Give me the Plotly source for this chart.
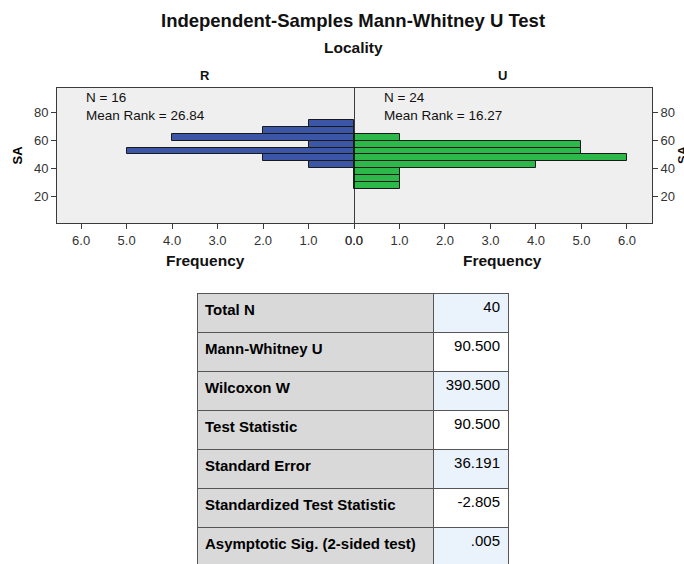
import plotly.graph_objects as go

# ---- data ----
bin_centers = [27.5, 32.5, 37.5, 42.5, 47.5, 52.5, 57.5, 62.5, 67.5, 72.5]
freq_R = [0, 0, 0, 1, 2, 5, 1, 4, 2, 1]
freq_U = [1, 1, 1, 4, 6, 5, 5, 1, 0, 0]
bin_width = 5
groups = ["R", "U"]
n_labels = ["N = 16", "N = 24"]
rank_labels = ["Mean Rank = 26.84", "Mean Rank = 16.27"]
x_ticks = [0, 1, 2, 3, 4, 5, 6]
y_ticks = [20, 40, 60, 80]

stat_names = ["Total N", "Mann-Whitney U", "Wilcoxon W", "Test Statistic",
              "Standard Error", "Standardized Test Statistic",
              "Asymptotic Sig. (2-sided test)"]
stat_values = ["40", "90.500", "390.500", "90.500", "36.191", "-2.805", ".005"]

W, H = 684, 564
FONT = "Liberation Sans, Arial, sans-serif"
BLUE = "#3b56a7"
GREEN = "#2db84a"
FRAME = "#3a3a3a"

def px_x(p):
    return p / W

def px_y(p):
    return 1 - p / H

fig = go.Figure()

left_dom = [px_x(57), px_x(354)]
right_dom = [px_x(354), px_x(652)]
ydom = [px_y(223), px_y(88)]

fig.add_trace(go.Bar(x=freq_R, y=bin_centers, orientation="h", width=bin_width,
                     marker=dict(color=BLUE, line=dict(color="#1a1a1a", width=1)),
                     xaxis="x", yaxis="y", showlegend=False, hoverinfo="x+y"))
fig.add_trace(go.Bar(x=freq_U, y=bin_centers, orientation="h", width=bin_width,
                     marker=dict(color=GREEN, line=dict(color="#1a1a1a", width=1)),
                     xaxis="x2", yaxis="y2", showlegend=False, hoverinfo="x+y"))

tickfont = dict(family=FONT, size=13, color="#333333")
yrange = [0.5, 98]

fig.update_layout(
    width=W, height=H,
    margin=dict(l=0, r=0, t=0, b=0, pad=0, autoexpand=False),
    paper_bgcolor="white",
    plot_bgcolor="#efefef",
    font=dict(family=FONT, color="black"),
    bargap=0,
    xaxis=dict(domain=left_dom, range=[6.53, 0], tickvals=x_ticks, tickformat=".1f",
               ticks="outside", ticklen=5, tickcolor=FRAME, showgrid=False, zeroline=False,
               showline=True, linecolor=FRAME, linewidth=1, mirror=True, tickfont=tickfont,
               anchor="y", automargin=False),
    yaxis=dict(domain=ydom, range=yrange, tickvals=y_ticks, ticks="outside", ticklen=5,
               tickcolor=FRAME, showgrid=False, zeroline=False, showline=True,
               linecolor=FRAME, linewidth=1, mirror=False, tickfont=tickfont,
               anchor="x", automargin=False,
               title=dict(text="<b>SA</b>", font=dict(family=FONT, size=13), standoff=8)),
    xaxis2=dict(domain=right_dom, range=[0, 6.55], tickvals=x_ticks, tickformat=".1f",
                ticks="outside", ticklen=5, tickcolor=FRAME, showgrid=False, zeroline=False,
                showline=True, linecolor=FRAME, linewidth=1, mirror=True, tickfont=tickfont,
                anchor="y2", automargin=False),
    yaxis2=dict(domain=ydom, range=yrange, tickvals=y_ticks, ticks="outside", ticklen=5,
                tickcolor=FRAME, showgrid=False, zeroline=False, showline=True,
                linecolor=FRAME, linewidth=1, side="right", tickfont=tickfont,
                anchor="x2", automargin=False),
)

fig.add_shape(type="line", xref="x2", yref="y2 domain", x0=0, x1=0, y0=0, y1=1,
              line=dict(color="black", width=1.5))

def anno(text, x, y, size, xanchor="center", **kw):
    return dict(text=text, x=px_x(x), y=px_y(y), xref="paper", yref="paper",
                xanchor=xanchor, yanchor="middle", showarrow=False,
                font=dict(family=FONT, size=size, color="#111"), **kw)

annos = [
    anno("<b>Independent-Samples Mann-Whitney U Test</b>", 353, 20, 18.5),
    anno("<b>Locality</b>", 353, 47, 15.5),
]
for i, cx in enumerate([205, 502]):
    annos.append(anno("<b>%s</b>" % groups[i], cx, 76, 13))
    annos.append(anno("<b>Frequency</b>", cx, 260, 15.5))
for i, lx in enumerate([84, 382]):
    annos.append(anno(n_labels[i] + "<br>" + rank_labels[i], lx, 107, 13.5, xanchor="left",
                      align="left"))
annos.append(anno("<b>SA</b>", 682, 155, 13, textangle=-90))
fig.update_layout(annotations=annos)

LBL = "#d9d9d9"
BLUE_C = "#eaf3fc"
val_fill = [BLUE_C if i % 2 == 0 else "white" for i in range(len(stat_names))]
row_h = 39
fig.add_trace(go.Table(
    domain=dict(x=[px_x(197), px_x(508)], y=[0, px_y(293)]),
    columnwidth=[236, 75],
    header=dict(values=["<b>%s</b>" % stat_names[0], stat_values[0]],
                fill=dict(color=[LBL, val_fill[0]]),
                align=["left", "right"], height=row_h,
                line=dict(color="#555555", width=1),
                font=dict(family=FONT, size=15, color="black")),
    cells=dict(values=[["<b>%s</b>" % s for s in stat_names[1:]], stat_values[1:]],
               fill=dict(color=[[LBL] * (len(stat_names) - 1), val_fill[1:]]),
               align=["left", "right"], height=row_h,
               line=dict(color="#555555", width=1),
               font=dict(family=FONT, size=15, color="black")),
))

fig.write_html("out.html", config={"displayModeBar": False},
               post_script="document.body.style.margin='0';")
